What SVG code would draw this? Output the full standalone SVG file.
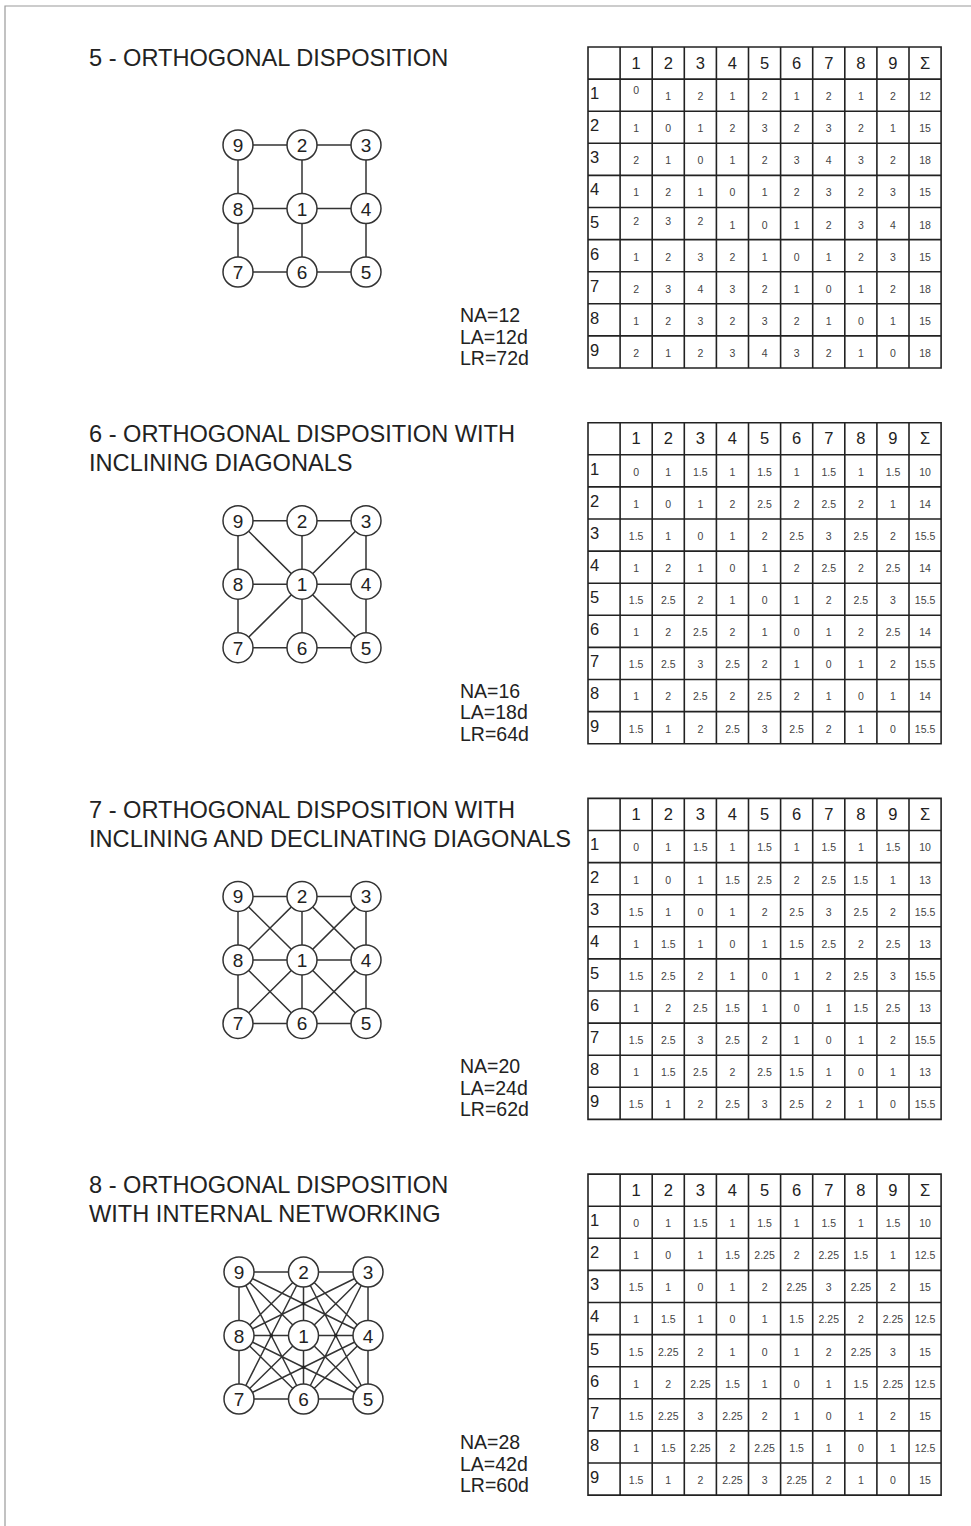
<svg xmlns="http://www.w3.org/2000/svg" width="971" height="1526" viewBox="0 0 971 1526">
<style>
.frame{stroke:#9a9a9a;stroke-width:1.2;fill:none}
.title{font-family:"Liberation Sans",Arial,sans-serif;font-size:23.6px;fill:#222}
.stat{font-family:"Liberation Sans",Arial,sans-serif;font-size:19.5px;fill:#222}
.grid{fill:none;stroke:#222;stroke-width:1.6}
.hd{font-family:"Liberation Sans",Arial,sans-serif;font-size:16.5px;fill:#222;text-anchor:middle}
.rl{font-family:"Liberation Sans",Arial,sans-serif;font-size:16.5px;fill:#222}
.d{font-family:"Liberation Sans",Arial,sans-serif;font-size:10.5px;fill:#444;text-anchor:middle}
.edge{stroke:#333;stroke-width:1.5;fill:none}
.dot{fill:#222}
.node circle{fill:#fff;stroke:#333;stroke-width:1.5}
.node text{font-family:"Liberation Sans",Arial,sans-serif;font-size:19px;fill:#222;text-anchor:middle}
</style>
<rect width="971" height="1526" fill="#fff"/>
<path class="frame" d="M5 1526V6H971"/>

<!-- Section 5 -->
<text class="title" x="89" y="66">5 - ORTHOGONAL DISPOSITION</text>
<g id="s5-connectors">
<path class="edge" d="M238 145H366M238 208.5H366M238 272H366M238 145V272M302 145V272M366 145V272"/>
</g>
<g id="s5-n9" class="node"><circle cx="238" cy="145" r="15"/><text x="238" y="152">9</text></g>
<g id="s5-n2" class="node"><circle cx="302" cy="145" r="15"/><text x="302" y="152">2</text></g>
<g id="s5-n3" class="node"><circle cx="366" cy="145" r="15"/><text x="366" y="152">3</text></g>
<g id="s5-n8" class="node"><circle cx="238" cy="208.5" r="15"/><text x="238" y="215.5">8</text></g>
<g id="s5-n1" class="node"><circle cx="302" cy="208.5" r="15"/><text x="302" y="215.5">1</text></g>
<g id="s5-n4" class="node"><circle cx="366" cy="208.5" r="15"/><text x="366" y="215.5">4</text></g>
<g id="s5-n7" class="node"><circle cx="238" cy="272" r="15"/><text x="238" y="279">7</text></g>
<g id="s5-n6" class="node"><circle cx="302" cy="272" r="15"/><text x="302" y="279">6</text></g>
<g id="s5-n5" class="node"><circle cx="366" cy="272" r="15"/><text x="366" y="279">5</text></g>
<text class="stat" x="460" y="322">NA=12</text>
<text class="stat" x="460" y="343.5">LA=12d</text>
<text class="stat" x="460" y="365">LR=72d</text>
<g id="table5" transform="translate(588,47)">
<path class="grid" d="M0 0H353.1V321H0ZM32.1 0V321M64.2 0V321M96.3 0V321M128.4 0V321M160.5 0V321M192.6 0V321M224.7 0V321M256.8 0V321M288.9 0V321M321 0V321M0 32.1H353.1M0 64.2H353.1M0 96.3H353.1M0 128.4H353.1M0 160.5H353.1M0 192.6H353.1M0 224.7H353.1M0 256.8H353.1M0 288.9H353.1"/>
<text class="hd" y="21.5"><tspan x="48.15">1</tspan><tspan x="80.25">2</tspan><tspan x="112.35">3</tspan><tspan x="144.45">4</tspan><tspan x="176.55">5</tspan><tspan x="208.65">6</tspan><tspan x="240.75">7</tspan><tspan x="272.85">8</tspan><tspan x="304.95">9</tspan><tspan x="337.05">Σ</tspan></text>
<text class="rl"><tspan x="2" y="52.1">1</tspan><tspan x="2" y="84.2">2</tspan><tspan x="2" y="116.3">3</tspan><tspan x="2" y="148.4">4</tspan><tspan x="2" y="180.5">5</tspan><tspan x="2" y="212.6">6</tspan><tspan x="2" y="244.7">7</tspan><tspan x="2" y="276.8">8</tspan><tspan x="2" y="308.9">9</tspan></text>
<text class="d" y="53.1"><tspan x="48.15" y="47">0</tspan><tspan x="80.25" y="53.1">1</tspan><tspan x="112.35">2</tspan><tspan x="144.45">1</tspan><tspan x="176.55">2</tspan><tspan x="208.65">1</tspan><tspan x="240.75">2</tspan><tspan x="272.85">1</tspan><tspan x="304.95">2</tspan><tspan x="337.05">12</tspan></text>
<text class="d" y="85.2"><tspan x="48.15">1</tspan><tspan x="80.25">0</tspan><tspan x="112.35">1</tspan><tspan x="144.45">2</tspan><tspan x="176.55">3</tspan><tspan x="208.65">2</tspan><tspan x="240.75">3</tspan><tspan x="272.85">2</tspan><tspan x="304.95">1</tspan><tspan x="337.05">15</tspan></text>
<text class="d" y="117.3"><tspan x="48.15">2</tspan><tspan x="80.25">1</tspan><tspan x="112.35">0</tspan><tspan x="144.45">1</tspan><tspan x="176.55">2</tspan><tspan x="208.65">3</tspan><tspan x="240.75">4</tspan><tspan x="272.85">3</tspan><tspan x="304.95">2</tspan><tspan x="337.05">18</tspan></text>
<text class="d" y="149.4"><tspan x="48.15">1</tspan><tspan x="80.25">2</tspan><tspan x="112.35">1</tspan><tspan x="144.45">0</tspan><tspan x="176.55">1</tspan><tspan x="208.65">2</tspan><tspan x="240.75">3</tspan><tspan x="272.85">2</tspan><tspan x="304.95">3</tspan><tspan x="337.05">15</tspan></text>
<text class="d" y="178"><tspan x="48.15">2</tspan><tspan x="80.25">3</tspan><tspan x="112.35">2</tspan><tspan x="144.45" y="181.5">1</tspan><tspan x="176.55">0</tspan><tspan x="208.65">1</tspan><tspan x="240.75">2</tspan><tspan x="272.85">3</tspan><tspan x="304.95">4</tspan><tspan x="337.05">18</tspan></text>
<text class="d" y="213.6"><tspan x="48.15">1</tspan><tspan x="80.25">2</tspan><tspan x="112.35">3</tspan><tspan x="144.45">2</tspan><tspan x="176.55">1</tspan><tspan x="208.65">0</tspan><tspan x="240.75">1</tspan><tspan x="272.85">2</tspan><tspan x="304.95">3</tspan><tspan x="337.05">15</tspan></text>
<text class="d" y="245.7"><tspan x="48.15">2</tspan><tspan x="80.25">3</tspan><tspan x="112.35">4</tspan><tspan x="144.45">3</tspan><tspan x="176.55">2</tspan><tspan x="208.65">1</tspan><tspan x="240.75">0</tspan><tspan x="272.85">1</tspan><tspan x="304.95">2</tspan><tspan x="337.05">18</tspan></text>
<text class="d" y="277.8"><tspan x="48.15">1</tspan><tspan x="80.25">2</tspan><tspan x="112.35">3</tspan><tspan x="144.45">2</tspan><tspan x="176.55">3</tspan><tspan x="208.65">2</tspan><tspan x="240.75">1</tspan><tspan x="272.85">0</tspan><tspan x="304.95">1</tspan><tspan x="337.05">15</tspan></text>
<text class="d" y="309.9"><tspan x="48.15">2</tspan><tspan x="80.25">1</tspan><tspan x="112.35">2</tspan><tspan x="144.45">3</tspan><tspan x="176.55">4</tspan><tspan x="208.65">3</tspan><tspan x="240.75">2</tspan><tspan x="272.85">1</tspan><tspan x="304.95">0</tspan><tspan x="337.05">18</tspan></text>
</g>

<!-- Section 6 -->
<text class="title" x="89" y="442">6 - ORTHOGONAL DISPOSITION WITH</text>
<text class="title" x="89" y="471">INCLINING DIAGONALS</text>
<g id="s6-connectors">
<path class="edge" d="M238 520.7H366M238 584.2H366M238 647.7H366M238 520.7V647.7M302 520.7V647.7M366 520.7V647.7M238 520.7L366 647.7M366 520.7L238 647.7"/>
</g>
<g id="s6-n9" class="node"><circle cx="238" cy="520.7" r="15"/><text x="238" y="527.7">9</text></g>
<g id="s6-n2" class="node"><circle cx="302" cy="520.7" r="15"/><text x="302" y="527.7">2</text></g>
<g id="s6-n3" class="node"><circle cx="366" cy="520.7" r="15"/><text x="366" y="527.7">3</text></g>
<g id="s6-n8" class="node"><circle cx="238" cy="584.2" r="15"/><text x="238" y="591.2">8</text></g>
<g id="s6-n1" class="node"><circle cx="302" cy="584.2" r="15"/><text x="302" y="591.2">1</text></g>
<g id="s6-n4" class="node"><circle cx="366" cy="584.2" r="15"/><text x="366" y="591.2">4</text></g>
<g id="s6-n7" class="node"><circle cx="238" cy="647.7" r="15"/><text x="238" y="654.7">7</text></g>
<g id="s6-n6" class="node"><circle cx="302" cy="647.7" r="15"/><text x="302" y="654.7">6</text></g>
<g id="s6-n5" class="node"><circle cx="366" cy="647.7" r="15"/><text x="366" y="654.7">5</text></g>
<text class="stat" x="460" y="697.7">NA=16</text>
<text class="stat" x="460" y="719.2">LA=18d</text>
<text class="stat" x="460" y="740.7">LR=64d</text>
<g id="table6" transform="translate(588,422.7)">
<path class="grid" d="M0 0H353.1V321H0ZM32.1 0V321M64.2 0V321M96.3 0V321M128.4 0V321M160.5 0V321M192.6 0V321M224.7 0V321M256.8 0V321M288.9 0V321M321 0V321M0 32.1H353.1M0 64.2H353.1M0 96.3H353.1M0 128.4H353.1M0 160.5H353.1M0 192.6H353.1M0 224.7H353.1M0 256.8H353.1M0 288.9H353.1"/>
<text class="hd" y="21.5"><tspan x="48.15">1</tspan><tspan x="80.25">2</tspan><tspan x="112.35">3</tspan><tspan x="144.45">4</tspan><tspan x="176.55">5</tspan><tspan x="208.65">6</tspan><tspan x="240.75">7</tspan><tspan x="272.85">8</tspan><tspan x="304.95">9</tspan><tspan x="337.05">Σ</tspan></text>
<text class="rl"><tspan x="2" y="52.1">1</tspan><tspan x="2" y="84.2">2</tspan><tspan x="2" y="116.3">3</tspan><tspan x="2" y="148.4">4</tspan><tspan x="2" y="180.5">5</tspan><tspan x="2" y="212.6">6</tspan><tspan x="2" y="244.7">7</tspan><tspan x="2" y="276.8">8</tspan><tspan x="2" y="308.9">9</tspan></text>
<text class="d" y="53.1"><tspan x="48.15">0</tspan><tspan x="80.25">1</tspan><tspan x="112.35">1.5</tspan><tspan x="144.45">1</tspan><tspan x="176.55">1.5</tspan><tspan x="208.65">1</tspan><tspan x="240.75">1.5</tspan><tspan x="272.85">1</tspan><tspan x="304.95">1.5</tspan><tspan x="337.05">10</tspan></text>
<text class="d" y="85.2"><tspan x="48.15">1</tspan><tspan x="80.25">0</tspan><tspan x="112.35">1</tspan><tspan x="144.45">2</tspan><tspan x="176.55">2.5</tspan><tspan x="208.65">2</tspan><tspan x="240.75">2.5</tspan><tspan x="272.85">2</tspan><tspan x="304.95">1</tspan><tspan x="337.05">14</tspan></text>
<text class="d" y="117.3"><tspan x="48.15">1.5</tspan><tspan x="80.25">1</tspan><tspan x="112.35">0</tspan><tspan x="144.45">1</tspan><tspan x="176.55">2</tspan><tspan x="208.65">2.5</tspan><tspan x="240.75">3</tspan><tspan x="272.85">2.5</tspan><tspan x="304.95">2</tspan><tspan x="337.05">15.5</tspan></text>
<text class="d" y="149.4"><tspan x="48.15">1</tspan><tspan x="80.25">2</tspan><tspan x="112.35">1</tspan><tspan x="144.45">0</tspan><tspan x="176.55">1</tspan><tspan x="208.65">2</tspan><tspan x="240.75">2.5</tspan><tspan x="272.85">2</tspan><tspan x="304.95">2.5</tspan><tspan x="337.05">14</tspan></text>
<text class="d" y="181.5"><tspan x="48.15">1.5</tspan><tspan x="80.25">2.5</tspan><tspan x="112.35">2</tspan><tspan x="144.45">1</tspan><tspan x="176.55">0</tspan><tspan x="208.65">1</tspan><tspan x="240.75">2</tspan><tspan x="272.85">2.5</tspan><tspan x="304.95">3</tspan><tspan x="337.05">15.5</tspan></text>
<text class="d" y="213.6"><tspan x="48.15">1</tspan><tspan x="80.25">2</tspan><tspan x="112.35">2.5</tspan><tspan x="144.45">2</tspan><tspan x="176.55">1</tspan><tspan x="208.65">0</tspan><tspan x="240.75">1</tspan><tspan x="272.85">2</tspan><tspan x="304.95">2.5</tspan><tspan x="337.05">14</tspan></text>
<text class="d" y="245.7"><tspan x="48.15">1.5</tspan><tspan x="80.25">2.5</tspan><tspan x="112.35">3</tspan><tspan x="144.45">2.5</tspan><tspan x="176.55">2</tspan><tspan x="208.65">1</tspan><tspan x="240.75">0</tspan><tspan x="272.85">1</tspan><tspan x="304.95">2</tspan><tspan x="337.05">15.5</tspan></text>
<text class="d" y="277.8"><tspan x="48.15">1</tspan><tspan x="80.25">2</tspan><tspan x="112.35">2.5</tspan><tspan x="144.45">2</tspan><tspan x="176.55">2.5</tspan><tspan x="208.65">2</tspan><tspan x="240.75">1</tspan><tspan x="272.85">0</tspan><tspan x="304.95">1</tspan><tspan x="337.05">14</tspan></text>
<text class="d" y="309.9"><tspan x="48.15">1.5</tspan><tspan x="80.25">1</tspan><tspan x="112.35">2</tspan><tspan x="144.45">2.5</tspan><tspan x="176.55">3</tspan><tspan x="208.65">2.5</tspan><tspan x="240.75">2</tspan><tspan x="272.85">1</tspan><tspan x="304.95">0</tspan><tspan x="337.05">15.5</tspan></text>
</g>

<!-- Section 7 -->
<text class="title" x="89" y="817.5">7 - ORTHOGONAL DISPOSITION WITH</text>
<text class="title" x="89" y="846.5">INCLINING AND DECLINATING DIAGONALS</text>
<g id="s7-connectors">
<path class="edge" d="M238 896.4H366M238 959.9H366M238 1023.4H366M238 896.4V1023.4M302 896.4V1023.4M366 896.4V1023.4M238 896.4L366 1023.4M366 896.4L238 1023.4M302 896.4L238 959.9L302 1023.4L366 959.9Z"/>
</g>
<g id="s7-n9" class="node"><circle cx="238" cy="896.4" r="15"/><text x="238" y="903.4">9</text></g>
<g id="s7-n2" class="node"><circle cx="302" cy="896.4" r="15"/><text x="302" y="903.4">2</text></g>
<g id="s7-n3" class="node"><circle cx="366" cy="896.4" r="15"/><text x="366" y="903.4">3</text></g>
<g id="s7-n8" class="node"><circle cx="238" cy="959.9" r="15"/><text x="238" y="966.9">8</text></g>
<g id="s7-n1" class="node"><circle cx="302" cy="959.9" r="15"/><text x="302" y="966.9">1</text></g>
<g id="s7-n4" class="node"><circle cx="366" cy="959.9" r="15"/><text x="366" y="966.9">4</text></g>
<g id="s7-n7" class="node"><circle cx="238" cy="1023.4" r="15"/><text x="238" y="1030.4">7</text></g>
<g id="s7-n6" class="node"><circle cx="302" cy="1023.4" r="15"/><text x="302" y="1030.4">6</text></g>
<g id="s7-n5" class="node"><circle cx="366" cy="1023.4" r="15"/><text x="366" y="1030.4">5</text></g>
<text class="stat" x="460" y="1073.4">NA=20</text>
<text class="stat" x="460" y="1094.9">LA=24d</text>
<text class="stat" x="460" y="1116.4">LR=62d</text>
<g id="table7" transform="translate(588,798.4)">
<path class="grid" d="M0 0H353.1V321H0ZM32.1 0V321M64.2 0V321M96.3 0V321M128.4 0V321M160.5 0V321M192.6 0V321M224.7 0V321M256.8 0V321M288.9 0V321M321 0V321M0 32.1H353.1M0 64.2H353.1M0 96.3H353.1M0 128.4H353.1M0 160.5H353.1M0 192.6H353.1M0 224.7H353.1M0 256.8H353.1M0 288.9H353.1"/>
<text class="hd" y="21.5"><tspan x="48.15">1</tspan><tspan x="80.25">2</tspan><tspan x="112.35">3</tspan><tspan x="144.45">4</tspan><tspan x="176.55">5</tspan><tspan x="208.65">6</tspan><tspan x="240.75">7</tspan><tspan x="272.85">8</tspan><tspan x="304.95">9</tspan><tspan x="337.05">Σ</tspan></text>
<text class="rl"><tspan x="2" y="52.1">1</tspan><tspan x="2" y="84.2">2</tspan><tspan x="2" y="116.3">3</tspan><tspan x="2" y="148.4">4</tspan><tspan x="2" y="180.5">5</tspan><tspan x="2" y="212.6">6</tspan><tspan x="2" y="244.7">7</tspan><tspan x="2" y="276.8">8</tspan><tspan x="2" y="308.9">9</tspan></text>
<text class="d" y="53.1"><tspan x="48.15">0</tspan><tspan x="80.25">1</tspan><tspan x="112.35">1.5</tspan><tspan x="144.45">1</tspan><tspan x="176.55">1.5</tspan><tspan x="208.65">1</tspan><tspan x="240.75">1.5</tspan><tspan x="272.85">1</tspan><tspan x="304.95">1.5</tspan><tspan x="337.05">10</tspan></text>
<text class="d" y="85.2"><tspan x="48.15">1</tspan><tspan x="80.25">0</tspan><tspan x="112.35">1</tspan><tspan x="144.45">1.5</tspan><tspan x="176.55">2.5</tspan><tspan x="208.65">2</tspan><tspan x="240.75">2.5</tspan><tspan x="272.85">1.5</tspan><tspan x="304.95">1</tspan><tspan x="337.05">13</tspan></text>
<text class="d" y="117.3"><tspan x="48.15">1.5</tspan><tspan x="80.25">1</tspan><tspan x="112.35">0</tspan><tspan x="144.45">1</tspan><tspan x="176.55">2</tspan><tspan x="208.65">2.5</tspan><tspan x="240.75">3</tspan><tspan x="272.85">2.5</tspan><tspan x="304.95">2</tspan><tspan x="337.05">15.5</tspan></text>
<text class="d" y="149.4"><tspan x="48.15">1</tspan><tspan x="80.25">1.5</tspan><tspan x="112.35">1</tspan><tspan x="144.45">0</tspan><tspan x="176.55">1</tspan><tspan x="208.65">1.5</tspan><tspan x="240.75">2.5</tspan><tspan x="272.85">2</tspan><tspan x="304.95">2.5</tspan><tspan x="337.05">13</tspan></text>
<text class="d" y="181.5"><tspan x="48.15">1.5</tspan><tspan x="80.25">2.5</tspan><tspan x="112.35">2</tspan><tspan x="144.45">1</tspan><tspan x="176.55">0</tspan><tspan x="208.65">1</tspan><tspan x="240.75">2</tspan><tspan x="272.85">2.5</tspan><tspan x="304.95">3</tspan><tspan x="337.05">15.5</tspan></text>
<text class="d" y="213.6"><tspan x="48.15">1</tspan><tspan x="80.25">2</tspan><tspan x="112.35">2.5</tspan><tspan x="144.45">1.5</tspan><tspan x="176.55">1</tspan><tspan x="208.65">0</tspan><tspan x="240.75">1</tspan><tspan x="272.85">1.5</tspan><tspan x="304.95">2.5</tspan><tspan x="337.05">13</tspan></text>
<text class="d" y="245.7"><tspan x="48.15">1.5</tspan><tspan x="80.25">2.5</tspan><tspan x="112.35">3</tspan><tspan x="144.45">2.5</tspan><tspan x="176.55">2</tspan><tspan x="208.65">1</tspan><tspan x="240.75">0</tspan><tspan x="272.85">1</tspan><tspan x="304.95">2</tspan><tspan x="337.05">15.5</tspan></text>
<text class="d" y="277.8"><tspan x="48.15">1</tspan><tspan x="80.25">1.5</tspan><tspan x="112.35">2.5</tspan><tspan x="144.45">2</tspan><tspan x="176.55">2.5</tspan><tspan x="208.65">1.5</tspan><tspan x="240.75">1</tspan><tspan x="272.85">0</tspan><tspan x="304.95">1</tspan><tspan x="337.05">13</tspan></text>
<text class="d" y="309.9"><tspan x="48.15">1.5</tspan><tspan x="80.25">1</tspan><tspan x="112.35">2</tspan><tspan x="144.45">2.5</tspan><tspan x="176.55">3</tspan><tspan x="208.65">2.5</tspan><tspan x="240.75">2</tspan><tspan x="272.85">1</tspan><tspan x="304.95">0</tspan><tspan x="337.05">15.5</tspan></text>
</g>

<!-- Section 8 -->
<text class="title" x="89" y="1193">8 - ORTHOGONAL DISPOSITION</text>
<text class="title" x="89" y="1222">WITH INTERNAL NETWORKING</text>
<g id="s8-connectors">
<path class="edge" d="M239 1272H368M239 1335.5H368M239 1399H368M239 1272V1399M303.5 1272V1399M368 1272V1399M239 1272L368 1399M368 1272L239 1399M303.5 1272L239 1335.5L303.5 1399L368 1335.5ZM239 1272L368 1335.5M239 1272L303.5 1399M368 1272L239 1335.5M368 1272L303.5 1399M239 1399L303.5 1272M239 1399L368 1335.5M368 1399L303.5 1272M368 1399L239 1335.5"/>
<circle class="dot" cx="303.5" cy="1303.75" r="1.8"/>
<circle class="dot" cx="271.25" cy="1335.5" r="1.8"/>
<circle class="dot" cx="335.75" cy="1335.5" r="1.8"/>
<circle class="dot" cx="303.5" cy="1367.25" r="1.8"/>
</g>
<g id="s8-n9" class="node"><circle cx="239" cy="1272" r="15"/><text x="239" y="1279">9</text></g>
<g id="s8-n2" class="node"><circle cx="303.5" cy="1272" r="15"/><text x="303.5" y="1279">2</text></g>
<g id="s8-n3" class="node"><circle cx="368" cy="1272" r="15"/><text x="368" y="1279">3</text></g>
<g id="s8-n8" class="node"><circle cx="239" cy="1335.5" r="15"/><text x="239" y="1342.5">8</text></g>
<g id="s8-n1" class="node"><circle cx="303.5" cy="1335.5" r="15"/><text x="303.5" y="1342.5">1</text></g>
<g id="s8-n4" class="node"><circle cx="368" cy="1335.5" r="15"/><text x="368" y="1342.5">4</text></g>
<g id="s8-n7" class="node"><circle cx="239" cy="1399" r="15"/><text x="239" y="1406">7</text></g>
<g id="s8-n6" class="node"><circle cx="303.5" cy="1399" r="15"/><text x="303.5" y="1406">6</text></g>
<g id="s8-n5" class="node"><circle cx="368" cy="1399" r="15"/><text x="368" y="1406">5</text></g>
<text class="stat" x="460" y="1449.1">NA=28</text>
<text class="stat" x="460" y="1470.6">LA=42d</text>
<text class="stat" x="460" y="1492.1">LR=60d</text>
<g id="table8" transform="translate(588,1174.1)">
<path class="grid" d="M0 0H353.1V321H0ZM32.1 0V321M64.2 0V321M96.3 0V321M128.4 0V321M160.5 0V321M192.6 0V321M224.7 0V321M256.8 0V321M288.9 0V321M321 0V321M0 32.1H353.1M0 64.2H353.1M0 96.3H353.1M0 128.4H353.1M0 160.5H353.1M0 192.6H353.1M0 224.7H353.1M0 256.8H353.1M0 288.9H353.1"/>
<text class="hd" y="21.5"><tspan x="48.15">1</tspan><tspan x="80.25">2</tspan><tspan x="112.35">3</tspan><tspan x="144.45">4</tspan><tspan x="176.55">5</tspan><tspan x="208.65">6</tspan><tspan x="240.75">7</tspan><tspan x="272.85">8</tspan><tspan x="304.95">9</tspan><tspan x="337.05">Σ</tspan></text>
<text class="rl"><tspan x="2" y="52.1">1</tspan><tspan x="2" y="84.2">2</tspan><tspan x="2" y="116.3">3</tspan><tspan x="2" y="148.4">4</tspan><tspan x="2" y="180.5">5</tspan><tspan x="2" y="212.6">6</tspan><tspan x="2" y="244.7">7</tspan><tspan x="2" y="276.8">8</tspan><tspan x="2" y="308.9">9</tspan></text>
<text class="d" y="53.1"><tspan x="48.15">0</tspan><tspan x="80.25">1</tspan><tspan x="112.35">1.5</tspan><tspan x="144.45">1</tspan><tspan x="176.55">1.5</tspan><tspan x="208.65">1</tspan><tspan x="240.75">1.5</tspan><tspan x="272.85">1</tspan><tspan x="304.95">1.5</tspan><tspan x="337.05">10</tspan></text>
<text class="d" y="85.2"><tspan x="48.15">1</tspan><tspan x="80.25">0</tspan><tspan x="112.35">1</tspan><tspan x="144.45">1.5</tspan><tspan x="176.55">2.25</tspan><tspan x="208.65">2</tspan><tspan x="240.75">2.25</tspan><tspan x="272.85">1.5</tspan><tspan x="304.95">1</tspan><tspan x="337.05">12.5</tspan></text>
<text class="d" y="117.3"><tspan x="48.15">1.5</tspan><tspan x="80.25">1</tspan><tspan x="112.35">0</tspan><tspan x="144.45">1</tspan><tspan x="176.55">2</tspan><tspan x="208.65">2.25</tspan><tspan x="240.75">3</tspan><tspan x="272.85">2.25</tspan><tspan x="304.95">2</tspan><tspan x="337.05">15</tspan></text>
<text class="d" y="149.4"><tspan x="48.15">1</tspan><tspan x="80.25">1.5</tspan><tspan x="112.35">1</tspan><tspan x="144.45">0</tspan><tspan x="176.55">1</tspan><tspan x="208.65">1.5</tspan><tspan x="240.75">2.25</tspan><tspan x="272.85">2</tspan><tspan x="304.95">2.25</tspan><tspan x="337.05">12.5</tspan></text>
<text class="d" y="181.5"><tspan x="48.15">1.5</tspan><tspan x="80.25">2.25</tspan><tspan x="112.35">2</tspan><tspan x="144.45">1</tspan><tspan x="176.55">0</tspan><tspan x="208.65">1</tspan><tspan x="240.75">2</tspan><tspan x="272.85">2.25</tspan><tspan x="304.95">3</tspan><tspan x="337.05">15</tspan></text>
<text class="d" y="213.6"><tspan x="48.15">1</tspan><tspan x="80.25">2</tspan><tspan x="112.35">2.25</tspan><tspan x="144.45">1.5</tspan><tspan x="176.55">1</tspan><tspan x="208.65">0</tspan><tspan x="240.75">1</tspan><tspan x="272.85">1.5</tspan><tspan x="304.95">2.25</tspan><tspan x="337.05">12.5</tspan></text>
<text class="d" y="245.7"><tspan x="48.15">1.5</tspan><tspan x="80.25">2.25</tspan><tspan x="112.35">3</tspan><tspan x="144.45">2.25</tspan><tspan x="176.55">2</tspan><tspan x="208.65">1</tspan><tspan x="240.75">0</tspan><tspan x="272.85">1</tspan><tspan x="304.95">2</tspan><tspan x="337.05">15</tspan></text>
<text class="d" y="277.8"><tspan x="48.15">1</tspan><tspan x="80.25">1.5</tspan><tspan x="112.35">2.25</tspan><tspan x="144.45">2</tspan><tspan x="176.55">2.25</tspan><tspan x="208.65">1.5</tspan><tspan x="240.75">1</tspan><tspan x="272.85">0</tspan><tspan x="304.95">1</tspan><tspan x="337.05">12.5</tspan></text>
<text class="d" y="309.9"><tspan x="48.15">1.5</tspan><tspan x="80.25">1</tspan><tspan x="112.35">2</tspan><tspan x="144.45">2.25</tspan><tspan x="176.55">3</tspan><tspan x="208.65">2.25</tspan><tspan x="240.75">2</tspan><tspan x="272.85">1</tspan><tspan x="304.95">0</tspan><tspan x="337.05">15</tspan></text>
</g>
</svg>
